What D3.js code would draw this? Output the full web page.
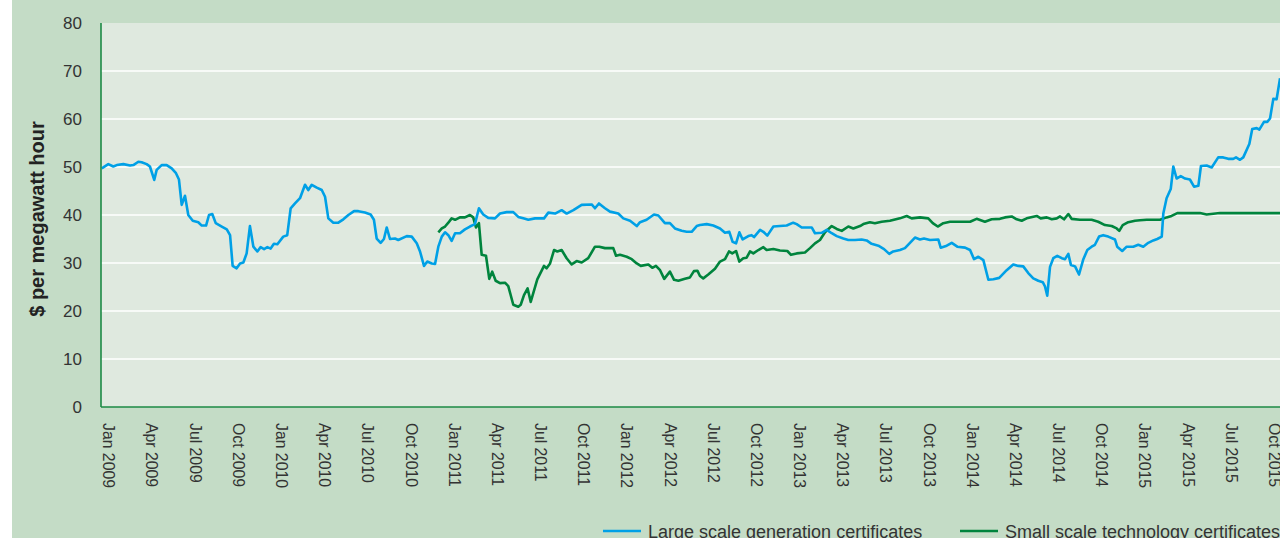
<!DOCTYPE html>
<meta charset="utf-8"/>
<style>

    html,
    body {
        margin: 0;
        padding: 0;
        background: #fff;
    }

    svg {
        display: block;
        font-family: "Liberation Sans", Arial, Helvetica, sans-serif;
    }

    .grid line {
        stroke: #fff;
        stroke-width: 1.6px;
    }

    .ylabels text {
        font-size: 17px;
        fill: #333;
    }

    .xlabels text {
        font-size: 15.8px;
        fill: #333;
    }

    .legend text {
        font-size: 18px;
        fill: #333;
    }

</style>
<body>
<svg width="1280" height="538"></svg>
</body>
<script src="https://d3js.org/d3.v7.min.js"></script>
<script>

  // prices in $/MWh, time as decimal year
  var lgcSeries = [
    [2008.958, 49.7], [2008.996, 50.6], [2009.025, 50.1], [2009.045, 50.4], [2009.083, 50.6],
    [2009.122, 50.3], [2009.141, 50.4], [2009.170, 51.1], [2009.189, 51.0], [2009.218, 50.6],
    [2009.237, 50.1], [2009.262, 47.3], [2009.276, 49.4], [2009.305, 50.4], [2009.334, 50.4],
    [2009.363, 49.7], [2009.388, 48.7], [2009.405, 47.4], [2009.421, 42.1], [2009.440, 44.0],
    [2009.459, 40.0], [2009.485, 38.8], [2009.517, 38.5], [2009.537, 37.8], [2009.562, 37.8],
    [2009.579, 40.0], [2009.598, 40.2], [2009.618, 38.3], [2009.653, 37.6], [2009.682, 37.0],
    [2009.701, 35.8], [2009.716, 29.4], [2009.739, 28.9], [2009.759, 29.9], [2009.778, 30.1],
    [2009.797, 32.0], [2009.816, 37.7], [2009.836, 33.4], [2009.859, 32.4], [2009.878, 33.3],
    [2009.898, 32.9], [2009.917, 33.3], [2009.936, 33.0], [2009.955, 34.0], [2009.975, 33.9],
    [2010.009, 35.5], [2010.032, 35.8], [2010.052, 41.4], [2010.077, 42.4], [2010.106, 43.5],
    [2010.135, 46.3], [2010.154, 45.2], [2010.174, 46.3], [2010.203, 45.7], [2010.232, 45.2],
    [2010.251, 43.8], [2010.270, 39.3], [2010.299, 38.4], [2010.328, 38.4], [2010.357, 39.1],
    [2010.386, 40.0], [2010.419, 40.8], [2010.444, 40.8], [2010.482, 40.5], [2010.515, 40.1],
    [2010.534, 39.0], [2010.550, 35.1], [2010.573, 34.2], [2010.592, 35.0], [2010.608, 37.4],
    [2010.627, 35.0], [2010.656, 35.1], [2010.675, 34.8], [2010.724, 35.6], [2010.753, 35.5],
    [2010.782, 34.1], [2010.801, 32.4], [2010.824, 29.4], [2010.843, 30.3], [2010.869, 29.9],
    [2010.888, 29.8], [2010.907, 33.4], [2010.927, 35.5], [2010.946, 36.4], [2010.965, 35.8],
    [2010.984, 34.6], [2011.004, 36.2], [2011.032, 36.2], [2011.061, 37.0], [2011.090, 37.6],
    [2011.119, 38.1], [2011.142, 41.4], [2011.167, 40.1], [2011.196, 39.4], [2011.235, 39.3],
    [2011.264, 40.3], [2011.303, 40.6], [2011.341, 40.6], [2011.370, 39.6], [2011.399, 39.3],
    [2011.428, 39.0], [2011.467, 39.3], [2011.519, 39.3], [2011.544, 40.5], [2011.583, 40.3],
    [2011.621, 41.0], [2011.650, 40.3], [2011.689, 41.0], [2011.737, 42.1], [2011.795, 42.2],
    [2011.814, 41.4], [2011.837, 42.4], [2011.872, 41.4], [2011.901, 40.7], [2011.949, 40.3],
    [2011.978, 39.3], [2012.017, 38.8], [2012.056, 37.7], [2012.075, 38.5], [2012.113, 39.0],
    [2012.156, 40.1], [2012.181, 39.9], [2012.219, 38.3], [2012.248, 38.3], [2012.277, 37.2],
    [2012.316, 36.7], [2012.345, 36.5], [2012.374, 36.5], [2012.403, 37.7], [2012.422, 37.9],
    [2012.461, 38.1], [2012.499, 37.8], [2012.538, 37.2], [2012.567, 36.3], [2012.592, 36.5],
    [2012.611, 34.4], [2012.631, 34.1], [2012.650, 36.4], [2012.669, 34.9], [2012.702, 35.6],
    [2012.721, 35.8], [2012.735, 35.4], [2012.770, 36.9], [2012.789, 36.5], [2012.812, 35.7],
    [2012.847, 37.6], [2012.885, 37.7], [2012.924, 37.8], [2012.962, 38.4], [2012.982, 38.1],
    [2013.011, 37.4], [2013.069, 37.4], [2013.088, 36.2], [2013.127, 36.3], [2013.156, 36.9],
    [2013.185, 36.2], [2013.214, 35.6], [2013.252, 35.1], [2013.281, 34.8], [2013.320, 34.8],
    [2013.358, 34.9], [2013.387, 34.7], [2013.416, 34.0], [2013.455, 33.6], [2013.488, 32.9],
    [2013.518, 31.9], [2013.541, 32.4], [2013.580, 32.7], [2013.609, 33.1], [2013.638, 34.2],
    [2013.667, 35.3], [2013.696, 34.9], [2013.719, 35.1], [2013.754, 34.8], [2013.802, 34.9],
    [2013.816, 33.2], [2013.851, 33.6], [2013.880, 34.2], [2013.912, 33.4], [2013.957, 33.2],
    [2013.986, 32.7], [2014.009, 30.8], [2014.034, 31.3], [2014.063, 30.6], [2014.092, 26.5],
    [2014.121, 26.6], [2014.155, 26.9], [2014.198, 28.5], [2014.236, 29.7], [2014.265, 29.4],
    [2014.294, 29.3], [2014.323, 27.9], [2014.352, 26.8], [2014.381, 26.3], [2014.407, 26.0],
    [2014.420, 25.1], [2014.433, 23.2], [2014.449, 29.2], [2014.468, 31.0], [2014.491, 31.5],
    [2014.517, 31.0], [2014.536, 30.8], [2014.555, 31.9], [2014.570, 29.6], [2014.594, 29.3],
    [2014.617, 27.6], [2014.642, 30.8], [2014.665, 32.7], [2014.690, 33.4], [2014.709, 33.8],
    [2014.733, 35.5], [2014.757, 35.8], [2014.786, 35.5], [2014.825, 34.9], [2014.838, 33.4],
    [2014.867, 32.5], [2014.893, 33.4], [2014.931, 33.4], [2014.960, 33.8], [2014.989, 33.4],
    [2015.018, 34.2], [2015.047, 34.7], [2015.070, 35.0], [2015.096, 35.5], [2015.105, 40.3],
    [2015.124, 43.5], [2015.148, 45.4], [2015.163, 50.1], [2015.182, 47.6], [2015.206, 48.1],
    [2015.231, 47.6], [2015.259, 47.4], [2015.283, 45.9], [2015.308, 46.1], [2015.323, 50.2],
    [2015.356, 50.3], [2015.385, 49.9], [2015.423, 52.0], [2015.452, 52.0], [2015.481, 51.7],
    [2015.510, 51.7], [2015.526, 52.0], [2015.549, 51.5], [2015.568, 52.0], [2015.603, 54.8],
    [2015.620, 57.9], [2015.646, 58.1], [2015.661, 57.8], [2015.688, 59.4], [2015.707, 59.4],
    [2015.723, 60.1], [2015.742, 64.2], [2015.761, 64.1], [2015.781, 68.5]
  ]

  var stcSeries = [
    [2010.907, 36.4], [2010.927, 37.2], [2010.946, 37.6], [2010.965, 38.4], [2010.984, 39.3],
    [2011.004, 39.0], [2011.032, 39.5], [2011.061, 39.5], [2011.090, 40.0], [2011.109, 39.5],
    [2011.125, 37.4], [2011.142, 38.3], [2011.158, 31.7], [2011.183, 31.5], [2011.202, 26.7],
    [2011.219, 28.2], [2011.239, 26.3], [2011.264, 25.8], [2011.293, 25.9], [2011.312, 25.2],
    [2011.341, 21.3], [2011.370, 20.9], [2011.384, 21.3], [2011.403, 23.3], [2011.424, 24.7],
    [2011.442, 21.9], [2011.480, 26.6], [2011.519, 29.4], [2011.534, 28.9], [2011.554, 29.9],
    [2011.577, 32.7], [2011.596, 32.4], [2011.621, 32.7], [2011.650, 31.0], [2011.679, 29.7],
    [2011.708, 30.4], [2011.737, 30.1], [2011.775, 31.0], [2011.814, 33.4], [2011.839, 33.4],
    [2011.872, 33.1], [2011.920, 33.1], [2011.936, 31.5], [2011.959, 31.7], [2011.998, 31.3],
    [2012.027, 30.8], [2012.056, 29.9], [2012.079, 29.4], [2012.123, 29.7], [2012.146, 29.0],
    [2012.167, 29.4], [2012.191, 28.5], [2012.215, 26.7], [2012.248, 28.2], [2012.272, 26.5],
    [2012.297, 26.3], [2012.335, 26.7], [2012.364, 27.0], [2012.387, 28.3], [2012.407, 28.4],
    [2012.422, 27.3], [2012.441, 26.8], [2012.470, 27.6], [2012.509, 28.8], [2012.538, 30.3],
    [2012.567, 30.8], [2012.590, 32.4], [2012.609, 32.0], [2012.631, 32.5], [2012.650, 30.3],
    [2012.673, 31.0], [2012.692, 31.1], [2012.712, 32.4], [2012.731, 32.0], [2012.760, 32.7],
    [2012.789, 33.3], [2012.808, 32.7], [2012.847, 32.9], [2012.885, 32.6], [2012.928, 32.5],
    [2012.949, 31.7], [2012.982, 32.0], [2013.030, 32.2], [2013.059, 33.1], [2013.088, 34.1],
    [2013.117, 34.8], [2013.146, 36.4], [2013.185, 37.7], [2013.214, 37.1], [2013.243, 36.7],
    [2013.281, 37.6], [2013.310, 37.2], [2013.349, 37.7], [2013.368, 38.1], [2013.406, 38.5],
    [2013.435, 38.3], [2013.474, 38.6], [2013.522, 38.8], [2013.580, 39.3], [2013.619, 39.8],
    [2013.648, 39.3], [2013.696, 39.5], [2013.744, 39.3], [2013.770, 38.3], [2013.799, 37.6],
    [2013.831, 38.3], [2013.870, 38.6], [2013.928, 38.6], [2013.986, 38.6], [2014.024, 39.2],
    [2014.072, 38.6], [2014.111, 39.1], [2014.159, 39.2], [2014.188, 39.5], [2014.227, 39.7],
    [2014.256, 39.1], [2014.285, 38.8], [2014.314, 39.3], [2014.372, 39.8], [2014.395, 39.3],
    [2014.430, 39.5], [2014.459, 39.1], [2014.488, 39.3], [2014.507, 39.7], [2014.530, 39.1],
    [2014.555, 40.2], [2014.574, 39.2], [2014.622, 39.0], [2014.690, 39.0], [2014.728, 38.6],
    [2014.767, 37.9], [2014.806, 37.7], [2014.835, 37.2], [2014.850, 36.7], [2014.870, 37.9],
    [2014.902, 38.5], [2014.941, 38.8], [2014.970, 38.9], [2015.009, 39.0], [2015.047, 39.0],
    [2015.086, 39.0], [2015.124, 39.5], [2015.153, 39.8], [2015.186, 40.4], [2015.317, 40.4],
    [2015.356, 40.1], [2015.433, 40.4], [2015.781, 40.4]
  ]

  var yTicks = [0, 10, 20, 30, 40, 50, 60, 70, 80]
  var quarterMonths = ["Jan", "Apr", "Jul", "Oct"]
  var tickYears = [2009, 2010, 2011, 2012, 2013, 2014, 2015]
  var seriesNames = ["Large scale generation certificates", "Small scale technology certificates"]

  var blue = "#00a0e6",
      green = "#00843d",
      axisGreen = "#1c8a45"

  var svg = d3.select("svg"),
      width = +svg.attr("width"),
      height = +svg.attr("height")

  var plotLeft = 101, plotRight = 1280, plotTop = 23, plotBottom = 407

  var x = d3.scaleLinear().domain([2009, 2015.75]).range([109, 1274.7])
  var y = d3.scaleLinear().domain([0, 80]).range([plotBottom, plotTop])

  // panel + plot backgrounds
  svg.append("rect")
    .attr("x", 12).attr("y", 0)
    .attr("width", width - 12).attr("height", height)
    .attr("fill", "#c4dcc6")

  svg.append("rect")
    .attr("x", plotLeft).attr("y", plotTop)
    .attr("width", plotRight - plotLeft).attr("height", plotBottom - plotTop)
    .attr("fill", "#dfe9df")

  // white gridlines
  svg.append("g")
    .attr("class", "grid")
    .selectAll("line")
    .data(yTicks.filter(function (d) { return d > 0 && d < 80 }))
    .enter().append("line")
    .attr("x1", plotLeft)
    .attr("x2", plotRight)
    .attr("y1", function (d) { return y(d) })
    .attr("y2", function (d) { return y(d) })

  // y tick labels
  svg.append("g")
    .attr("class", "ylabels")
    .selectAll("text")
    .data(yTicks)
    .enter().append("text")
    .attr("x", 82)
    .attr("y", function (d) { return y(d) })
    .attr("dy", "0.36em")
    .attr("text-anchor", "end")
    .text(function (d) { return d })

  // y title
  svg.append("text")
    .attr("transform", "translate(44,219) rotate(-90)")
    .attr("text-anchor", "middle")
    .style("font-size", "20px")
    .style("font-weight", "bold")
    .style("fill", "#222")
    .text("$ per megawatt hour")

  // x quarter labels, rotated to read downward
  var quarters = []
  tickYears.forEach(function (yr) {
    quarterMonths.forEach(function (m, i) {
      quarters.push({ t: yr + i * 0.25, label: m + " " + yr })
    })
  })

  svg.append("g")
    .attr("class", "xlabels")
    .selectAll("text")
    .data(quarters)
    .enter().append("text")
    .attr("transform", function (d) { return "translate(" + x(d.t) + ",423) rotate(90)" })
    .attr("dy", "0.36em")
    .attr("text-anchor", "start")
    .text(function (d) { return d.label })

  // series lines
  var line = d3.line()
    .x(function (d) { return x(d[0]) })
    .y(function (d) { return y(d[1]) })

  svg.append("path")
    .datum(stcSeries)
    .attr("fill", "none")
    .attr("stroke", green)
    .attr("stroke-width", 2.6)
    .attr("stroke-linejoin", "round")
    .attr("d", line)

  svg.append("path")
    .datum(lgcSeries)
    .attr("fill", "none")
    .attr("stroke", blue)
    .attr("stroke-width", 2.6)
    .attr("stroke-linejoin", "round")
    .attr("d", line)

  // axis lines
  svg.append("line")
    .attr("x1", plotLeft).attr("x2", plotLeft)
    .attr("y1", plotTop).attr("y2", plotBottom)
    .attr("stroke", axisGreen).attr("stroke-width", 1.6)

  svg.append("line")
    .attr("x1", plotLeft).attr("x2", plotRight)
    .attr("y1", plotBottom).attr("y2", plotBottom)
    .attr("stroke", axisGreen).attr("stroke-width", 1.6)

  // legend
  var legend = svg.append("g")
    .attr("class", "legend")
    .selectAll("g")
    .data([{ name: seriesNames[0], color: blue, x: 603 }, { name: seriesNames[1], color: green, x: 960 }])
    .enter().append("g")
    .attr("transform", function (d) { return "translate(" + d.x + ",531)" })

  legend.append("line")
    .attr("x1", 0).attr("x2", 38)
    .attr("stroke", function (d) { return d.color })
    .attr("stroke-width", 2.6)

  legend.append("text")
    .attr("x", 45)
    .attr("y", 6.5)
    .text(function (d) { return d.name })

</script>
